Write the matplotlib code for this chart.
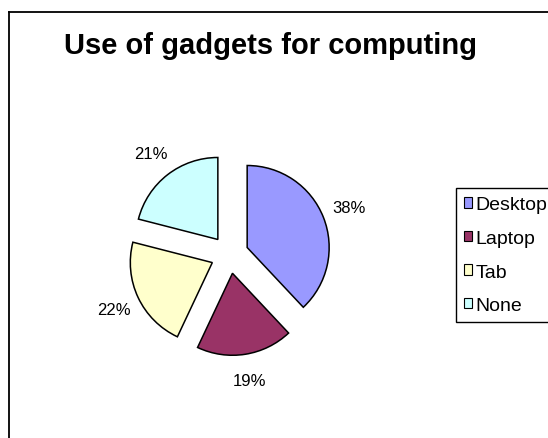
import matplotlib
matplotlib.use("Agg")
import matplotlib.pyplot as plt

plt.rcParams.update({"font.family": ["Liberation Sans", "DejaVu Sans"], "font.size": 12})

gadgets = ["Desktop", "Laptop", "Tab", "None"]
shares = [38, 19, 22, 21]
colors = ["#9999FF", "#993366", "#FFFFCC", "#CCFFFF"]

W, H = 548, 439
fig = plt.figure(figsize=(W / 100, H / 100), dpi=100)
# one axes spanning the figure, in pixel units (y up)
ax = fig.add_axes([0, 0, 1, 1])

# chart area border (only top and left edges fall inside the image)
ax.plot([9.3, 9.3], [-5, H - 12.7], color="black", lw=1.3, solid_capstyle="projecting")
ax.plot([9.3, W + 5], [H - 12.7, H - 12.7], color="black", lw=1.3, solid_capstyle="projecting")

fig.text(270 / W, 1 - 54 / H, "Use of gadgets for computing", ha="center", va="baseline",
         fontsize=21, fontweight="bold")

wedges, texts, autotexts = ax.pie(
    shares, colors=colors, startangle=90, counterclock=False,
    explode=[19] * len(shares), center=(229.5, H - 255.5), radius=82,
    autopct="%.0f%%", pctdistance=1.33, frame=True,
    wedgeprops={"edgecolor": "black", "linewidth": 1.1},
    textprops={"fontsize": 12})
ax.set_xlim(0, W)
ax.set_ylim(0, H)
ax.set_aspect("auto")
ax.axis("off")

leg = fig.legend(wedges, gadgets, loc="upper left",
                 bbox_to_anchor=(455.7 / W, 1 - 189.3 / H), borderaxespad=0,
                 fancybox=False, edgecolor="black", framealpha=1,
                 handlelength=0.44, handleheight=0.44, handletextpad=0.17,
                 labelspacing=0.85, borderpad=0.42, fontsize=14)
leg.get_frame().set_linewidth(1.0)
for h in leg.legend_handles:
    h.set_linewidth(0.8)

fig.savefig("out.png", dpi=100)
